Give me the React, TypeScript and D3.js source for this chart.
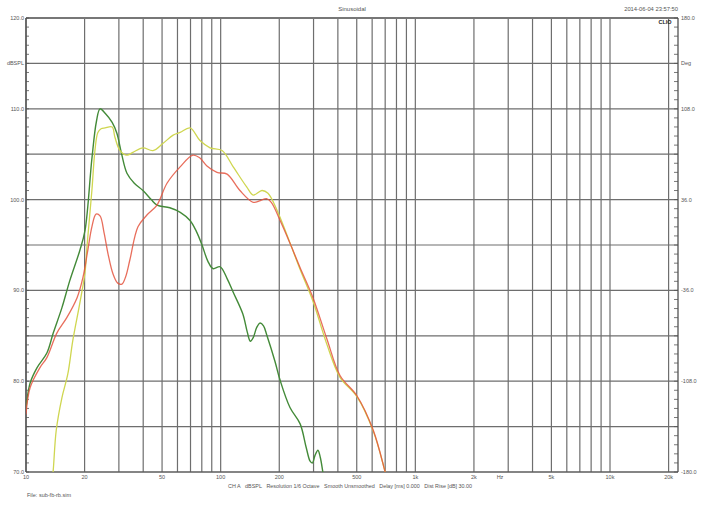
import React from "react";
import * as d3 from "d3";

const W = 705;
const H = 508;

const xTickValues = [10, 20, 50, 100, 200, 500, 1000, 2000, 5000, 10000, 20000];
const xTickLabels = ["10", "20", "50", "100", "200", "500", "1k", "2k", "5k", "10k", "20k"];
const xGridValues = [
  10, 20, 30, 40, 50, 60, 70, 80, 90,
  100, 200, 300, 400, 500, 600, 700, 800, 900,
  1000, 2000, 3000, 4000, 5000, 6000, 7000, 8000, 9000,
  10000, 20000,
];
const leftTickValues = [120, 110, 100, 90, 80, 70];
const leftTickLabels = ["120.0", "dBSPL", "110.0", "100.0", "90.0", "80.0", "70.0"];
const rightTickValues = [180, 108, 36, -36, -108, -180];
const rightTickLabels = ["180.0", "108.0", "36.0", "-36.0", "-108.0", "-180.0"];

// [frequency Hz, dBSPL]
const greenFreq = [10, 10.5, 11.4, 12.8, 13.8, 15.3, 16.8, 18.9, 20.1, 21.8, 23.0, 24.0, 25.5, 27.7, 29.3, 31, 33, 36, 39.9, 44, 47.1, 54.8, 62, 69.6, 75, 80.2, 86, 91.3, 99.4, 107.9, 116, 130, 137, 142, 147, 153, 159, 166, 173, 190, 202, 227, 256, 275, 288, 296, 305, 316, 325, 335, 345];
const greenDb = [77.0, 79.8, 81.5, 83.1, 85.3, 88.1, 91.1, 94.4, 96.6, 104.5, 108.6, 110.0, 109.5, 108.5, 107.3, 105, 102.9, 101.8, 101.0, 100.0, 99.4, 99.1, 98.6, 97.7, 96.5, 95.0, 93.2, 92.4, 92.6, 91.3, 89.8, 87.4, 85.4, 84.4, 84.8, 85.9, 86.4, 86.1, 85.0, 82.2, 80.1, 77.1, 75.3, 72.7, 71.2, 71.0, 71.8, 72.4, 71.6, 70, 68.5];

const redFreq = [10, 10.5, 11.8, 12.8, 14.4, 16.2, 18.3, 19.6, 20.8, 21.8, 22.9, 24.0, 25.2, 26.4, 28.0, 29.6, 31.1, 32.5, 34.2, 37.6, 41.8, 47.1, 53, 61.9, 72, 78, 85, 95.7, 107.9, 125.6, 147, 160, 172, 182, 202, 227, 256, 298, 352, 411, 501, 608, 700, 740];
const redDb = [76.4, 79.3, 81.5, 82.6, 85.3, 87.0, 89.2, 91.4, 94.5, 97.0, 98.4, 98.2, 96.3, 94.0, 91.8, 90.8, 90.7, 91.5, 93.4, 97.0, 98.3, 99.4, 101.8, 103.6, 104.9, 104.6, 103.7, 103.0, 102.8, 101.0, 99.7, 99.9, 100.1, 99.7, 97.7, 95.2, 92.5, 89.2, 84.6, 80.6, 78.4, 74.6, 70, 68];

const yellowFreq = [13.6, 13.8, 14.3, 15.3, 16.4, 17.4, 18.9, 20.1, 20.6, 21.8, 22.6, 23.4, 24.3, 25.5, 27.7, 28.6, 30.4, 33.0, 35.4, 39.9, 44.9, 50.6, 57.0, 61.9, 69.6, 78.3, 88.2, 101.6, 116, 136, 147, 163, 175, 195, 256, 298, 352, 411, 501, 608, 700, 740];
const yellowDb = [69, 70.2, 74.6, 78.2, 80.8, 84.5, 88.6, 92.0, 95.0, 101.0, 105.4, 107.4, 107.8, 107.9, 108.0, 106.9, 105.4, 104.9, 105.2, 105.7, 105.4, 106.2, 107.1, 107.4, 107.9, 106.5, 105.7, 105.4, 103.6, 101.4, 100.5, 101.0, 100.7, 98.8, 92.3, 88.8, 84.0, 80.4, 78.3, 74.5, 70, 68];

export default function App() {
  const left = 26;
  const right = 678;
  const top = 18;
  const bottom = 472;

  const x = d3.scaleLog().domain([10, 10000]).range([left, 610]);
  const y = d3.scaleLinear().domain([70, 120]).range([bottom, top]);
  const yR = d3.scaleLinear().domain([-180, 180]).range([bottom, top]);

  const mk = (fs: number[], ds: number[]) =>
    d3
      .line<[number, number]>()
      .x((d) => x(d[0]))
      .y((d) => y(d[1]))
      .curve(d3.curveCatmullRom.alpha(0.5))(fs.map((f, i) => [f, ds[i]] as [number, number])) || "";

  const hGrid = d3.range(70, 120.001, 5);
  const leftMinor = d3.range(70, 120.001, 1);
  const rightMinor = d3.range(-180, 180.001, 7.2);

  const gridColor = "#6e6e6e";
  const textColor = "#555";
  const font = "'Liberation Sans', Arial, sans-serif";
  const nb = "\u00A0\u00A0\u00A0";
  const caption = ["CH A", "dBSPL", "Resolution 1/6 Octave", "Smooth Unsmoothed", "Delay [ms] 0.000", "Dist Rise [dB] 30.00"].join(nb);

  return (
    <div style={{ position: "fixed", left: 0, top: 0, width: W, height: H, background: "#fff" }}>
      <svg width={W} height={H} style={{ display: "block" }} fontFamily={font}>
        <rect x={0} y={0} width={W} height={H} fill="#fff" />
        <defs>
          <clipPath id="plotclip">
            <rect x={left} y={top} width={right - left} height={bottom - top} />
          </clipPath>
        </defs>

        {hGrid.map((v) => (
          <line key={"h" + v} x1={left} x2={right} y1={y(v)} y2={y(v)} stroke={gridColor} strokeWidth={1.2} />
        ))}
        {xGridValues.map((v) => (
          <line key={"v" + v} x1={x(v)} x2={x(v)} y1={top} y2={bottom} stroke={gridColor} strokeWidth={1.2} />
        ))}

        <line x1={left} x2={right} y1={top} y2={top} stroke="#777" strokeWidth={2} />
        <line x1={left} x2={right} y1={bottom} y2={bottom} stroke="#555" strokeWidth={1.2} />
        <line x1={left} x2={left} y1={top} y2={bottom} stroke="#444" strokeWidth={1.2} />
        <line x1={right} x2={right} y1={top} y2={bottom} stroke="#444" strokeWidth={1.2} />

        {leftMinor.map((v) => (
          <line key={"lm" + v} x1={left} x2={left + 3} y1={y(v)} y2={y(v)} stroke="#555" strokeWidth={0.8} />
        ))}
        {rightMinor.map((v, i) => (
          <line key={"rm" + i} x1={right - 4} x2={right} y1={yR(v)} y2={yR(v)} stroke="#555" strokeWidth={0.8} />
        ))}

        <g clipPath="url(#plotclip)" fill="none" strokeLinejoin="round" strokeLinecap="round">
          <path d={mk(greenFreq, greenDb)} stroke="#438a38" strokeWidth={1.4} />
          <path d={mk(yellowFreq, yellowDb)} stroke="#cfd650" strokeWidth={1.3} />
          <path d={mk(redFreq, redDb)} stroke="#e4553f" strokeWidth={1.3} strokeOpacity={0.85} />
        </g>

        {leftTickValues.map((v) => (
          <text key={"ll" + v} x={24} y={y(v)} dy="0.35em" textAnchor="end" fontSize={5.5} fill={textColor}>
            {v.toFixed(1)}
          </text>
        ))}
        <text x={24} y={y(115)} dy="0.35em" textAnchor="end" fontSize={5.5} fill={textColor}>
          {leftTickLabels[1]}
        </text>

        {rightTickValues.map((v, i) => (
          <text key={"rl" + v} x={681} y={yR(v)} dy="0.35em" textAnchor="start" fontSize={5.5} fill={textColor}>
            {rightTickLabels[i]}
          </text>
        ))}
        <text x={681} y={yR(144)} dy="0.35em" textAnchor="start" fontSize={5.5} fill={textColor}>
          Deg
        </text>

        {xTickValues.map((v, i) => (
          <text key={"xl" + v} x={x(v)} y={479} textAnchor="middle" fontSize={5.5} fill={textColor}>
            {xTickLabels[i]}
          </text>
        ))}
        <text x={500} y={479} textAnchor="middle" fontSize={5.5} fill={textColor}>
          Hz
        </text>

        <text x={228} y={488} fontSize={5.3} fill={textColor} textLength={244} lengthAdjust="spacingAndGlyphs">
          {caption}
        </text>
        <text x={27} y={497} fontSize={5.5} fill={textColor}>
          File: sub-fb-rb.sim
        </text>

        <text x={352} y={11} textAnchor="middle" fontSize={6} fill={textColor}>
          Sinusoidal
        </text>
        <text x={678} y={11} textAnchor="end" fontSize={5.8} fill={textColor}>
          2014-06-04 23:57:50
        </text>
        <text x={665} y={24} textAnchor="middle" fontSize={5.5} fontWeight="bold" fill="#222">
          CLIO
        </text>
      </svg>
    </div>
  );
}
